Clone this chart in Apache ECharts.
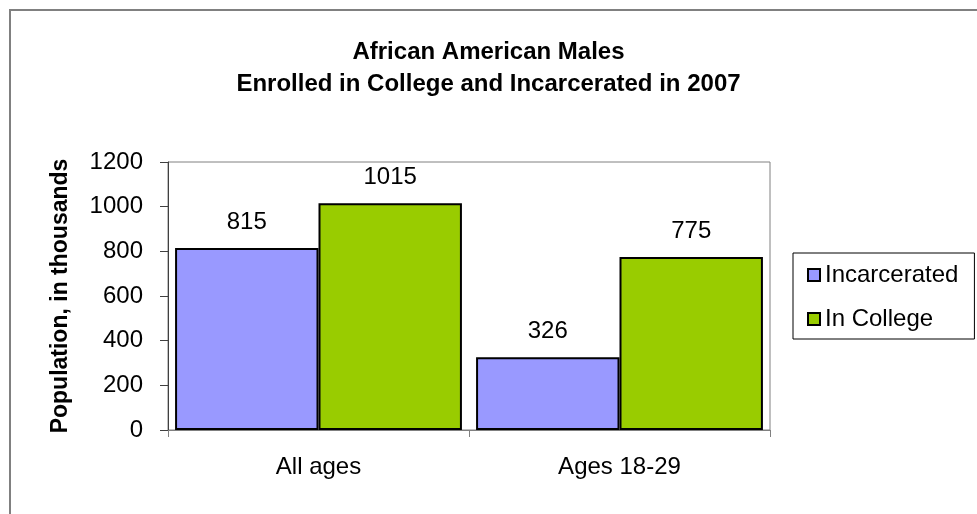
<!DOCTYPE html>
<html>
<head>
<meta charset="utf-8">
<script src="https://cdn.jsdelivr.net/npm/echarts@6/dist/echarts.min.js"></script>
<style>html,body{margin:0;padding:0;background:#fff}#c{width:977px;height:514px}</style>
</head>
<body>
<div id="c"></div>
<script>
const categories = ['All ages', 'Ages 18-29'];
const incarcerated = [815, 326];
const inCollege = [1015, 775];
const seriesNames = ['Incarcerated', 'In College'];
const titleLines = ['African American Males', 'Enrolled in College and Incarcerated in 2007'];
const yAxisName = 'Population, in thousands';

const FONT = "'Liberation Sans', Arial, sans-serif";
const chart = echarts.init(document.getElementById('c'), null, {renderer: 'canvas'});
const labelCfg = {show: true, position: 'top', distance: 14, fontSize: 24, color: '#000', fontFamily: FONT};
chart.setOption({
  animation: false,
  backgroundColor: '#fff',
  graphic: [{
    type: 'rect', shape: {x: 10, y: 10, width: 1000, height: 1000},
    style: {fill: 'none', stroke: '#808080', lineWidth: 2}, silent: true
  }],
  title: {
    text: titleLines.join('\n'), left: 'center', top: 36, padding: 0,
    textStyle: {fontSize: 24, fontWeight: 'bold', fontFamily: FONT, color: '#000', lineHeight: 32}
  },
  legend: {
    orient: 'vertical', left: 793, top: 253,
    padding: [10, 16, 8, 14], itemGap: 20,
    borderColor: '#000', borderWidth: 1,
    itemWidth: 12, itemHeight: 12, itemStyle: {borderColor: '#000', borderWidth: 2},
    textStyle: {fontSize: 24, fontFamily: FONT, color: '#000'},
    data: seriesNames.map(n => ({name: n, icon: 'rect'}))
  },
  grid: {left: 168, right: 207, top: 162, bottom: 84, show: true, borderColor: '#808080', borderWidth: 1},
  xAxis: {
    type: 'category', data: categories,
    axisLine: {lineStyle: {color: '#808080', width: 1}},
    axisTick: {show: true, length: 7, lineStyle: {color: '#808080'}},
    axisLabel: {fontSize: 24, fontFamily: FONT, color: '#000', margin: 25},
    splitLine: {show: false}
  },
  yAxis: {
    type: 'value', min: 0, max: 1200, interval: 200,
    name: yAxisName, nameLocation: 'middle', nameGap: 96, nameRotate: 90,
    nameTextStyle: {fontSize: 23, fontWeight: 'bold', fontFamily: FONT, color: '#000'},
    axisLine: {show: true, lineStyle: {color: '#404040', width: 1}},
    axisTick: {show: true, length: 8, lineStyle: {color: '#404040'}},
    axisLabel: {fontSize: 24, fontFamily: FONT, color: '#000', margin: 25, formatter: v => String(v)},
    splitLine: {show: false}
  },
  series: [
    {name: seriesNames[0], type: 'bar', data: incarcerated, barGap: '0%', barCategoryGap: '4.7%',
     itemStyle: {color: '#9999FF', borderColor: '#000', borderWidth: 2}, label: labelCfg},
    {name: seriesNames[1], type: 'bar', data: inCollege, barGap: '0%', barCategoryGap: '4.7%',
     itemStyle: {color: '#99CC00', borderColor: '#000', borderWidth: 2}, label: labelCfg}
  ]
});
</script>
</body>
</html>
